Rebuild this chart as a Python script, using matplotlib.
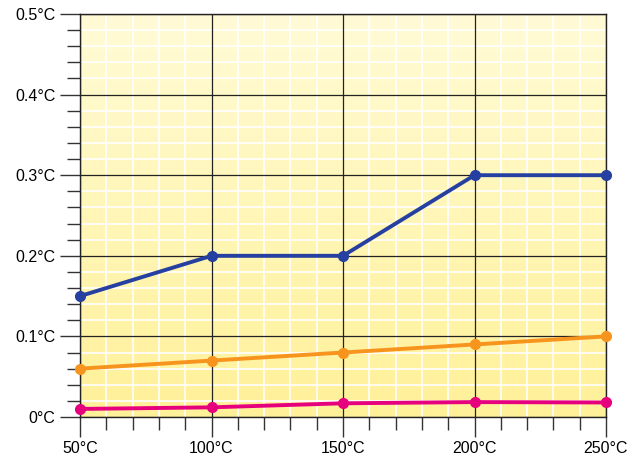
import numpy as np
import matplotlib.pyplot as plt
from matplotlib.colors import LinearSegmentedColormap
from matplotlib.ticker import FixedLocator, FuncFormatter

plt.rcParams['font.family'] = ['Liberation Sans', 'DejaVu Sans']

temps = [50, 100, 150, 200, 250]
blue_vals = [0.15, 0.20, 0.20, 0.30, 0.30]
orange_vals = [0.06, 0.07, 0.08, 0.09, 0.10]
pink_vals = [0.010, 0.012, 0.017, 0.0185, 0.018]

fig = plt.figure(figsize=(6.37, 4.65), dpi=100)
ax = fig.add_axes([80 / 637, 48 / 465, 526 / 637, 403 / 465])

# yellow gradient background, paler at top
cmap = LinearSegmentedColormap.from_list('bg', ['#fff199', '#fffbd6'])
grad = np.linspace(0, 1, 256).reshape(-1, 1)
ax.imshow(grad, aspect='auto', cmap=cmap, origin='lower',
          extent=[50, 250, 0, 0.5], zorder=0)

ax.set_xlim(50, 250)
ax.set_ylim(0, 0.5)
xmajor = [50, 100, 150, 200, 250]
ymajor = [0, 0.1, 0.2, 0.3, 0.4, 0.5]
xminor = [v for v in range(50, 251, 10) if v % 50 != 0]
yminor = [i / 50 for i in range(0, 26) if i % 5 != 0]
ax.xaxis.set_major_locator(FixedLocator(xmajor))
ax.yaxis.set_major_locator(FixedLocator(ymajor))
ax.xaxis.set_minor_locator(FixedLocator(xminor))
ax.yaxis.set_minor_locator(FixedLocator(yminor))

# grid drawn by hand so the black lines always sit over the white ones
ax.vlines(xminor, 0, 0.5, color='white', lw=1.2, zorder=1)
ax.hlines(yminor, 50, 250, color='white', lw=1.2, zorder=1)
ax.vlines(xmajor, 0, 0.5, color='#222222', lw=0.9, zorder=2)
ax.hlines(ymajor, 50, 250, color='#222222', lw=0.9, zorder=2)

ax.xaxis.set_major_formatter(FuncFormatter(lambda v, p: f"{v:.0f}°C"))
ax.yaxis.set_major_formatter(FuncFormatter(lambda v, p: "0°C" if v == 0 else f"{v:.1f}°C"))

ax.tick_params(which='major', length=14.5, width=1, color='#333333',
               labelsize=11.5, pad=3)
ax.tick_params(which='minor', length=9.5, width=1, color='#333333')

for s in ax.spines.values():
    s.set_color('#222222')
    s.set_linewidth(1)

ax.plot(temps, blue_vals, color='#2540a0', lw=2.8, marker='o', ms=7, zorder=5, clip_on=False)
ax.plot(temps, orange_vals, color='#f7941d', lw=2.8, marker='o', ms=7, zorder=5, clip_on=False)
ax.plot(temps, pink_vals, color='#e6007e', lw=2.8, marker='o', ms=7, zorder=5, clip_on=False)

fig.savefig('out.png', dpi=100)
